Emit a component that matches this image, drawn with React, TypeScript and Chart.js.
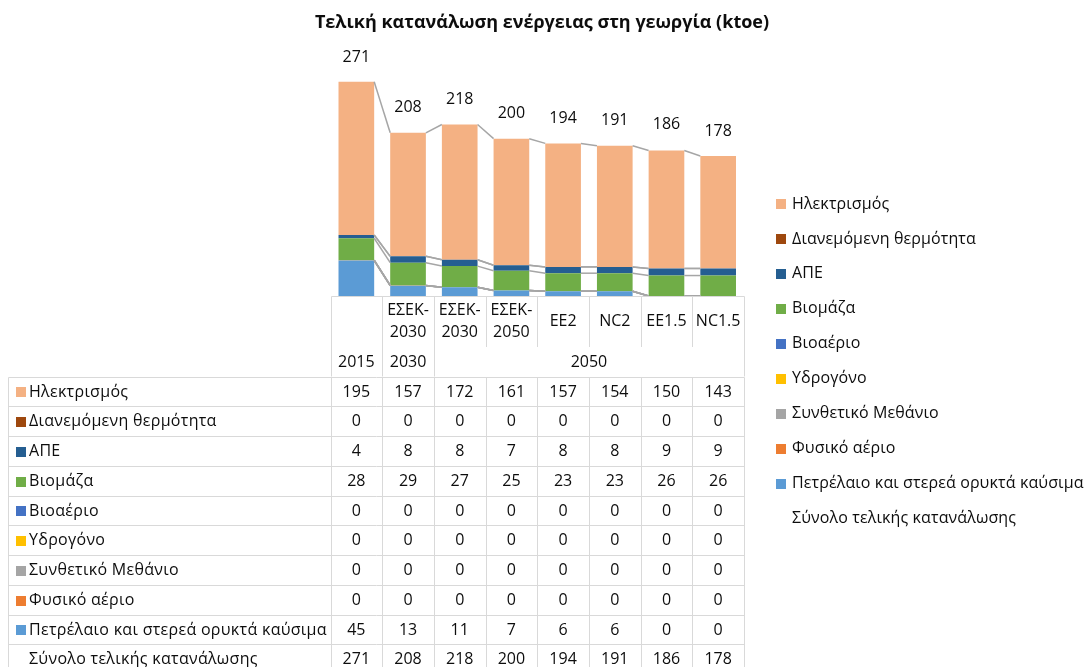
import React, { useEffect, useRef } from 'react';
import { Chart, registerables } from 'chart.js';

Chart.register(...registerables);

// ---- Data ----
const titleText = 'Τελική κατανάλωση ενέργειας στη γεωργία (ktoe)';
const scenarios: string[][] = [[], ['ΕΣΕΚ-', '2030'], ['ΕΣΕΚ-', '2030'], ['ΕΣΕΚ-', '2050'], ['EE2'], ['NC2'], ['EE1.5'], ['NC1.5']];
const years = ['2015', '2030', '2050', '2050', '2050', '2050', '2050', '2050'];

const electricity = [195, 157, 172, 161, 157, 154, 150, 143];
const districtHeat = [0, 0, 0, 0, 0, 0, 0, 0];
const renewables = [4, 8, 8, 7, 8, 8, 9, 9];
const biomass = [28, 29, 27, 25, 23, 23, 26, 26];
const biogas = [0, 0, 0, 0, 0, 0, 0, 0];
const hydrogen = [0, 0, 0, 0, 0, 0, 0, 0];
const synthMethane = [0, 0, 0, 0, 0, 0, 0, 0];
const naturalGas = [0.45, 0.4, 0, 0, 0, 0, 0, 0];
const oilSolid = [45, 13, 11, 7, 6, 6, 0, 0];
const total = [271, 208, 218, 200, 194, 191, 186, 178];
const totalName = 'Σύνολο τελικής κατανάλωσης';

// table / legend order (top to bottom)
const series = [
  { name: 'Ηλεκτρισμός', data: electricity, color: '#F4B183' },
  { name: 'Διανεμόμενη θερμότητα', data: districtHeat, color: '#9E480E' },
  { name: 'ΑΠΕ', data: renewables, color: '#255E91' },
  { name: 'Βιομάζα', data: biomass, color: '#70AD47' },
  { name: 'Βιοαέριο', data: biogas, color: '#4472C4' },
  { name: 'Υδρογόνο', data: hydrogen, color: '#FFC000' },
  { name: 'Συνθετικό Μεθάνιο', data: synthMethane, color: '#A5A5A5' },
  { name: 'Φυσικό αέριο', data: naturalGas, color: '#ED7D31' },
  { name: 'Πετρέλαιο και στερεά ορυκτά καύσιμα', data: oilSolid, color: '#5B9BD5' },
];

const FONT = '"Open Sans", "DejaVu Sans", sans-serif';
const TEXT = '#0d0d0d';
const GRID = '#d9d9d9';

const extrasPlugin = {
  id: 'excelExtras',
  afterDatasetsDraw(chart: any) {
    const ctx = chart.ctx;
    ctx.save();
    ctx.strokeStyle = '#a6a6a6';
    ctx.lineWidth = 1.5;
    chart.data.datasets.forEach((ds: any, d: number) => {
      if (ds.type === 'line') return;
      const meta = chart.getDatasetMeta(d);
      for (let i = 0; i < meta.data.length - 1; i++) {
        const a = meta.data[i].getProps(['x', 'y', 'width'], true);
        const b = meta.data[i + 1].getProps(['x', 'y', 'width'], true);
        ctx.beginPath();
        ctx.moveTo(a.x + a.width / 2, a.y);
        ctx.lineTo(b.x - b.width / 2, b.y);
        ctx.stroke();
      }
    });
    ctx.restore();
  },
  afterDraw(chart: any) {
    const ctx = chart.ctx;
    const ca = chart.chartArea;
    const xs = chart.scales.x;
    const ys = chart.scales.y;
    const n = years.length;
    const colW = (ca.right - ca.left) / n;
    const edge = (i: number) => Math.round(ca.left + i * colW) + 0.5;
    ctx.save();
    (ctx as any).letterSpacing = '0px';

    // title
    ctx.fillStyle = TEXT;
    ctx.font = `bold 18px ${FONT}`;
    ctx.textAlign = 'center';
    ctx.textBaseline = 'middle';
    ctx.fillText(titleText, 542, 23);

    // total labels
    ctx.font = `16px ${FONT}`;
    total.forEach((v, i) => {
      ctx.fillText(String(v), xs.getPixelForValue(i), ys.getPixelForValue(v) - 25);
    });

    // data table
    const tTop = Math.round(ca.bottom) + 0.5;
    const scenBottom = 347;
    const yearBottom = 376.5;
    const rowH = 29.75;
    const left = 8.5;
    const rows = [...series.map((s) => ({ name: s.name, data: s.data, color: s.color as string | null })), { name: totalName, data: total, color: null }];
    const rowY = (k: number) => Math.round(yearBottom + k * rowH) + 0.5;

    ctx.strokeStyle = GRID;
    ctx.lineWidth = 1;
    ctx.beginPath();
    ctx.moveTo(edge(0), tTop); ctx.lineTo(edge(n), tTop);
    for (let i = 0; i <= n; i++) { ctx.moveTo(edge(i), tTop); ctx.lineTo(edge(i), scenBottom); }
    const groupEdges: number[] = [0];
    for (let i = 1; i < n; i++) if (years[i] !== years[i - 1]) groupEdges.push(i);
    groupEdges.push(n);
    groupEdges.forEach((g) => { ctx.moveTo(edge(g), scenBottom); ctx.lineTo(edge(g), yearBottom); });
    for (let k = 0; k <= rows.length; k++) { ctx.moveTo(left, rowY(k)); ctx.lineTo(edge(n), rowY(k)); }
    const bottom = rowY(rows.length);
    ctx.moveTo(left, rowY(0)); ctx.lineTo(left, bottom);
    for (let i = 0; i <= n; i++) { ctx.moveTo(edge(i), rowY(0)); ctx.lineTo(edge(i), bottom); }
    ctx.stroke();

    // header text
    ctx.fillStyle = TEXT;
    ctx.font = `16px ${FONT}`;
    ctx.textAlign = 'center';
    const scenMid = (tTop + scenBottom) / 2;
    scenarios.forEach((lines, i) => {
      const cx = xs.getPixelForValue(i);
      lines.forEach((ln, j) => {
        ctx.fillText(ln, cx, scenMid + (j - (lines.length - 1) / 2) * 22);
      });
    });
    for (let g = 0; g < groupEdges.length - 1; g++) {
      const a = groupEdges[g], b = groupEdges[g + 1];
      ctx.fillText(years[a], (ca.left + a * colW + ca.left + b * colW) / 2, (scenBottom + yearBottom) / 2 + 1);
    }

    // rows
    rows.forEach((r, k) => {
      const cy = (rowY(k) + rowY(k + 1)) / 2;
      if (r.color) {
        ctx.fillStyle = r.color;
        ctx.fillRect(16, Math.round(cy - 5), 10, 10);
      }
      ctx.fillStyle = TEXT;
      ctx.textAlign = 'left';
      (ctx as any).letterSpacing = '0.3px';
      ctx.fillText(r.name, 29, cy);
      (ctx as any).letterSpacing = '0px';
      ctx.textAlign = 'center';
      r.data.forEach((v: number, i: number) => {
        ctx.fillText(String(Math.round(v)), xs.getPixelForValue(i), cy);
      });
    });

    // legend
    (ctx as any).letterSpacing = '0.12px';
    rows.forEach((r, k) => {
      const cy = 204 + k * 34.95;
      if (r.color) {
        ctx.fillStyle = r.color;
        ctx.fillRect(776, Math.round(cy - 5), 10, 10);
      }
      ctx.fillStyle = TEXT;
      ctx.textAlign = 'left';
      ctx.fillText(r.name, 792, cy);
    });

    ctx.restore();
  },
};

export default function App() {
  const ref = useRef<HTMLCanvasElement | null>(null);
  useEffect(() => {
    document.body.style.margin = '0';
    const canvas = ref.current;
    if (!canvas) return;
    const barSets = [...series].reverse().map((s) => ({
      type: 'bar' as const,
      label: s.name,
      data: s.data,
      backgroundColor: s.color,
      borderWidth: 0,
      stack: 'energy',
      categoryPercentage: 1,
      barPercentage: 0.69,
    }));
    const chart = new Chart(canvas, {
      data: {
        labels: scenarios.map((s, i) => `${years[i]} ${s.join('')}`.trim()),
        datasets: [
          ...barSets,
          {
            type: 'line' as const,
            label: totalName,
            data: total,
            borderColor: 'rgba(0,0,0,0)',
            backgroundColor: 'rgba(0,0,0,0)',
            showLine: false,
            pointRadius: 0,
            stack: 'total',
          },
        ],
      } as any,
      options: {
        responsive: false,
        animation: false,
        devicePixelRatio: 1,
        layout: { padding: { left: 330.5, right: 345, top: 60, bottom: 371 } },
        plugins: { legend: { display: false }, title: { display: false }, tooltip: { enabled: false } },
        scales: {
          x: { display: false, stacked: true },
          y: { display: false, stacked: true, min: 0, max: 300 },
        },
      },
      plugins: [extrasPlugin],
    });
    return () => chart.destroy();
  }, []);
  return (
    <div style={{ position: 'absolute', left: 0, top: 0, width: 1089, height: 667, background: '#fff' }}>
      <canvas ref={ref} width={1089} height={667} style={{ width: 1089, height: 667 }} />
    </div>
  );
}
